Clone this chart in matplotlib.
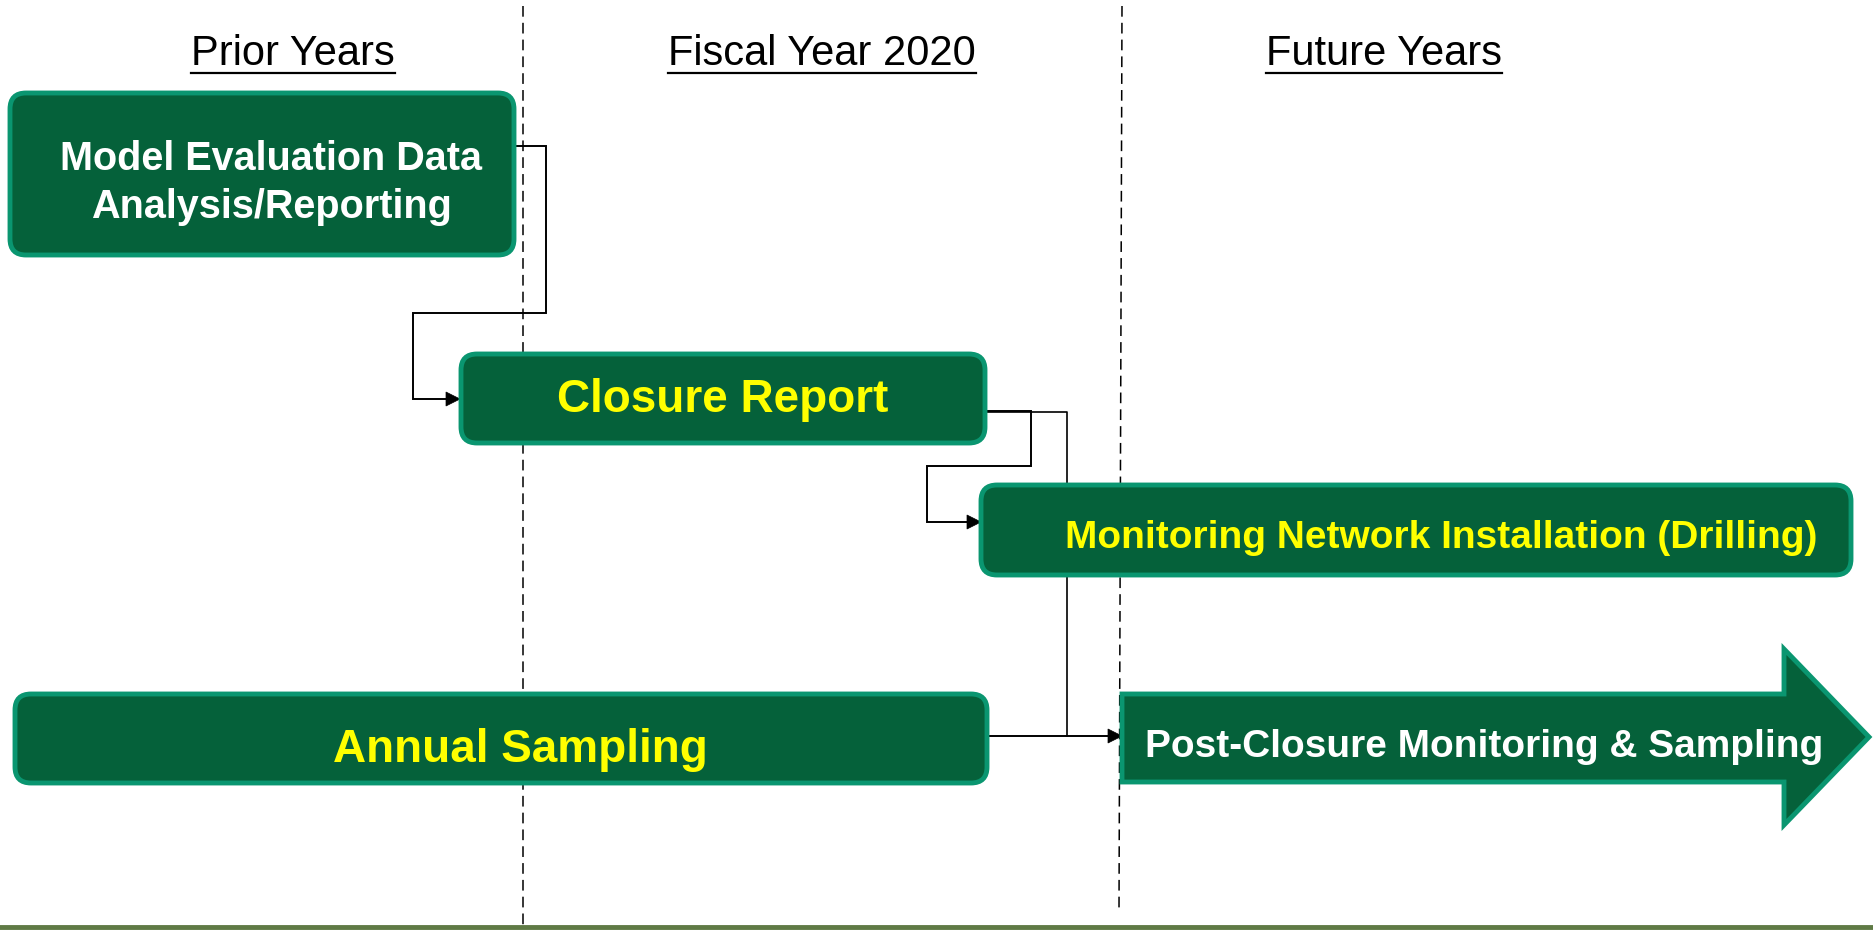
import matplotlib.pyplot as plt
from matplotlib.patches import FancyBboxPatch, Polygon
from matplotlib import font_manager

# textos del diagrama
headers = ["Prior Years", "Fiscal Year 2020", "Future Years"]
box_labels = ["Model Evaluation Data\nAnalysis/Reporting", "Closure Report",
              "Monitoring Network Installation (Drilling)", "Annual Sampling"]
box_text_colors = ["white", "#ffff00", "#ffff00", "#ffff00"]
arrow_label = "Post-Closure Monitoring & Sampling"

FILL = "#05613a"
EDGE = "#0a9670"

names = {f.name for f in font_manager.fontManager.ttflist}
narrow = "Liberation Sans Narrow" if "Liberation Sans Narrow" in names else "Liberation Sans"

W, H = 1874, 930
fig = plt.figure(figsize=(W / 100, H / 100), dpi=100)
ax = fig.add_axes([0, 0, 1, 1])
ax.set_xlim(0, W)
ax.set_ylim(H, 0)
ax.axis("off")

# lineas punteadas que separan los periodos
ax.plot([523, 523], [6, 930], color="black", lw=1.1, ls=(0, (7, 4)))
ax.plot([1122, 1119], [6, 910], color="black", lw=1.1, ls=(0, (7, 4)))
ax.plot([0, W], [927, 927], color="#5f7a45", lw=3.5)

# encabezados subrayados
header_x = [293, 822, 1384]
for hx, txt in zip(header_x, headers):
    ax.text(hx, 54, txt, ha="center", va="center", fontsize=30,
            family=narrow, color="black")
fig.canvas.draw()
r = fig.canvas.get_renderer()
for t in list(ax.texts):
    bb = t.get_window_extent(r).transformed(ax.transData.inverted())
    ax.plot([bb.x0, bb.x1], [73, 73], color="black", lw=1.6)

# cajas: x0, y0, ancho, alto, centro del texto, tamaño de letra
box_geom = [(10, 93, 504, 162, (271, 183), 28.5),
            (461, 354, 524, 89, (723, 400), 33),
            (981, 485, 870, 90, (1441, 538), 28),
            (15, 694, 972, 89, (520, 750), 33)]
for (x0, y0, w, h, (tx, ty), fs), lab, tc in zip(box_geom, box_labels, box_text_colors):
    p = FancyBboxPatch((x0 + 4, y0 + 4), w - 8, h - 8,
                       boxstyle="round,pad=4,rounding_size=16",
                       fc=FILL, ec=EDGE, lw=3.5, zorder=3)
    ax.add_patch(p)
    ax.text(tx, ty, lab, ha="center", va="center", fontsize=fs, weight="bold",
            family=narrow, color=tc, zorder=4, linespacing=1.35)

# flecha grande
arrow_pts = [(1122, 694), (1784, 694), (1784, 649), (1869, 737),
             (1784, 825), (1784, 782), (1122, 782)]
ax.add_patch(Polygon(arrow_pts, closed=True, fc=FILL, ec=EDGE, lw=3.5, zorder=3))
ax.text(1484, 747, arrow_label, ha="center", va="center", fontsize=28,
        weight="bold", family=narrow, color="white", zorder=4)

# conectores
def conector(xs, ys, flecha=True):
    ax.plot(xs[:-1] + [xs[-1] - 12], ys, color="black", lw=1.4, zorder=2,
            solid_joinstyle="miter")
    if flecha:
        x, y = xs[-1], ys[-1]
        ax.add_patch(Polygon([(x - 14, y - 7), (x, y), (x - 14, y + 7)],
                             closed=True, fc="black", ec="black", lw=0.5, zorder=2))

conector([514, 546, 546, 413, 413, 460], [146, 146, 313, 313, 399, 399])
conector([985, 1031, 1031, 927, 927, 981], [411, 411, 466, 466, 522, 522])
ax.plot([985, 1067, 1067], [412, 412, 736], color="black", lw=1.2, zorder=2)
conector([987, 1122], [736, 736])

fig.savefig("out.png", dpi=100, facecolor="white")
